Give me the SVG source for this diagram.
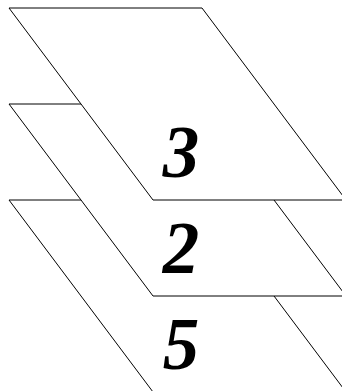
<svg xmlns="http://www.w3.org/2000/svg" width="342" height="391" viewBox="0 0 342 391">
<style>
.sheet{fill:#fff;stroke:#000;stroke-width:1}
.lbl{font-family:"Liberation Serif","Times New Roman",serif;font-weight:bold;font-style:italic;font-size:73px;text-anchor:middle;fill:#000}
</style>
<rect width="342" height="391" fill="#fff"/>
<g id="sheet5">
<polygon class="sheet" points="9,200 202,200 346,392 153,392"/>
<text class="lbl" x="181" y="369">5</text>
</g>
<g id="sheet2">
<polygon class="sheet" points="9,104 202,104 346,296 153,296"/>
<text class="lbl" x="181" y="273">2</text>
</g>
<g id="sheet3">
<polygon class="sheet" points="9,8 202,8 346,200 153,200"/>
<text class="lbl" x="181" y="177">3</text>
</g>
<g id="connectors"/>
</svg>
